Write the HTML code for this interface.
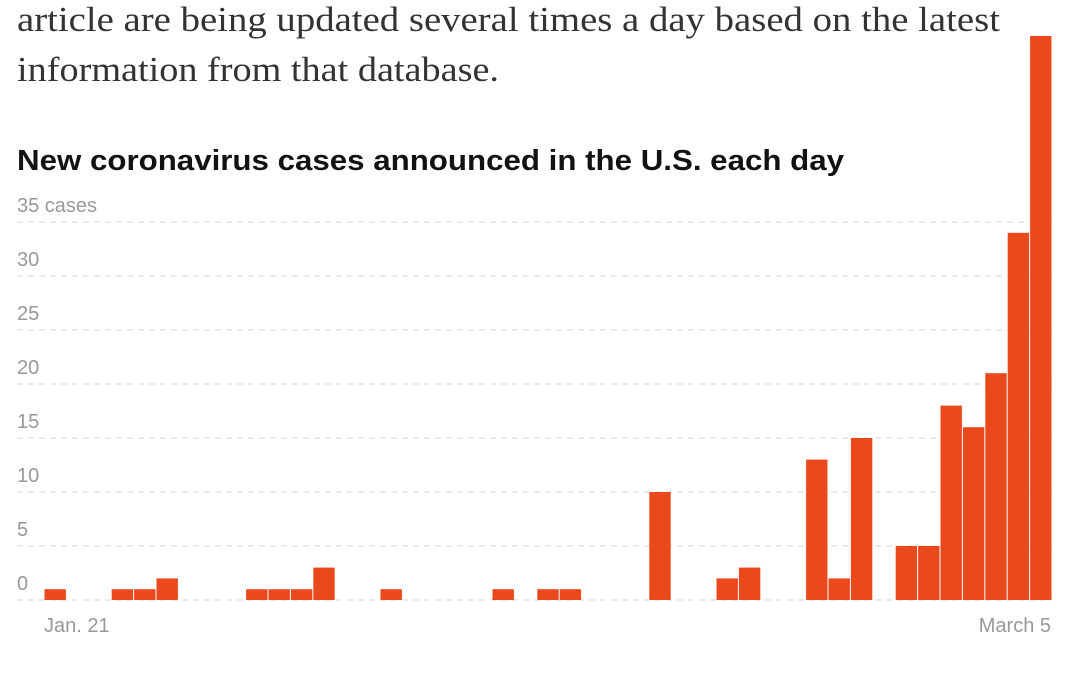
<!DOCTYPE html>
<html><head><style>
body{margin:0;width:1080px;height:671px;background:#fff;overflow:hidden}
</style></head><body>
<svg width="1080" height="671" xmlns="http://www.w3.org/2000/svg">
<g font-family="Liberation Serif, serif" font-size="35" fill="#333">
<text x="17" y="31" textLength="983" lengthAdjust="spacingAndGlyphs">article are being updated several times a day based on the latest</text>
<text x="17" y="81" textLength="482" lengthAdjust="spacingAndGlyphs">information from that database.</text>
</g>
<text x="17" y="170" font-family="Liberation Sans, sans-serif" font-weight="bold" font-size="29" fill="#121212" textLength="827" lengthAdjust="spacingAndGlyphs">New coronavirus cases announced in the U.S. each day</text>
<g stroke="#ddd" stroke-width="1.2" stroke-dasharray="6,5">
<line x1="17" x2="1052" y1="222" y2="222"/>
<line x1="17" x2="1052" y1="276" y2="276"/>
<line x1="17" x2="1052" y1="330" y2="330"/>
<line x1="17" x2="1052" y1="384" y2="384"/>
<line x1="17" x2="1052" y1="438" y2="438"/>
<line x1="17" x2="1052" y1="492" y2="492"/>
<line x1="17" x2="1052" y1="546" y2="546"/>
<line x1="17" x2="1052" y1="600" y2="600"/>
</g>
<g font-family="Liberation Sans, sans-serif" font-size="20" fill="#999">
<text x="17" y="212">35 cases</text>
<text x="17" y="266">30</text>
<text x="17" y="320">25</text>
<text x="17" y="374">20</text>
<text x="17" y="428">15</text>
<text x="17" y="482">10</text>
<text x="17" y="536">5</text>
<text x="17" y="590">0</text>
<text x="44" y="632">Jan. 21</text>
<text x="1051" y="632" text-anchor="end">March 5</text>
</g>
<g fill="#e9491d">
<rect x="44.5" y="589.2" width="21.4" height="10.8"/>
<rect x="111.7" y="589.2" width="21.4" height="10.8"/>
<rect x="134.1" y="589.2" width="21.4" height="10.8"/>
<rect x="156.5" y="578.4" width="21.4" height="21.6"/>
<rect x="246.1" y="589.2" width="21.4" height="10.8"/>
<rect x="268.5" y="589.2" width="21.4" height="10.8"/>
<rect x="290.9" y="589.2" width="21.4" height="10.8"/>
<rect x="313.3" y="567.6" width="21.4" height="32.4"/>
<rect x="380.5" y="589.2" width="21.4" height="10.8"/>
<rect x="492.5" y="589.2" width="21.4" height="10.8"/>
<rect x="537.3" y="589.2" width="21.4" height="10.8"/>
<rect x="559.7" y="589.2" width="21.4" height="10.8"/>
<rect x="649.3" y="492" width="21.4" height="108"/>
<rect x="716.5" y="578.4" width="21.4" height="21.6"/>
<rect x="738.9" y="567.6" width="21.4" height="32.4"/>
<rect x="806.1" y="459.6" width="21.4" height="140.4"/>
<rect x="828.5" y="578.4" width="21.4" height="21.6"/>
<rect x="850.9" y="438" width="21.4" height="162"/>
<rect x="895.7" y="546" width="21.4" height="54"/>
<rect x="918.1" y="546" width="21.4" height="54"/>
<rect x="940.5" y="405.6" width="21.4" height="194.4"/>
<rect x="962.9" y="427.2" width="21.4" height="172.8"/>
<rect x="985.3" y="373.2" width="21.4" height="226.8"/>
<rect x="1007.7" y="232.8" width="21.4" height="367.2"/>
<rect x="1030.1" y="36" width="21.4" height="564"/>
</g>
</svg>
</body></html>
